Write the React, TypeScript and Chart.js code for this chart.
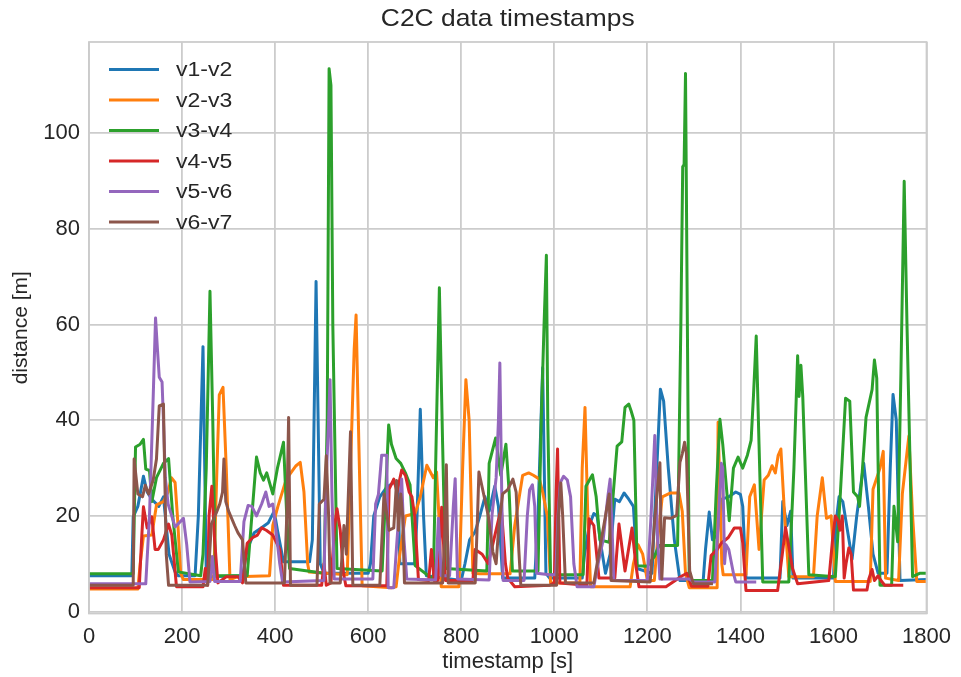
import { useEffect, useRef } from "react";
import { Chart, registerables } from "chart.js";

Chart.register(...registerables);

type Pt = [number, number];

// Pairwise vehicle distances over time: [timestamp s, distance m]
const seriesNames = ["v1-v2", "v2-v3", "v3-v4", "v4-v5", "v5-v6", "v6-v7"];
const seriesColors = ["#1f77b4", "#ff7f0e", "#2ca02c", "#d62728", "#9467bd", "#8c564b"];

const v1v2: Pt[] = [
  [0, 7.5], [92, 7.5], [95, 19.8], [105, 22], [117, 28.3], [125, 25], [135, 23.5], [150, 22], [160, 24], [172, 12],
  [185, 8.3], [192, 7.5], [228, 7.5], [235, 20], [245, 55.4], [252, 8], [258, 7.3], [330, 7.5], [340, 13], [355, 16.5],
  [370, 17.5], [385, 18.5], [398, 21], [405, 17], [418, 10.4], [474, 10.4], [480, 15], [488, 69], [497, 10], [505, 8],
  [600, 8], [605, 10], [612, 20], [625, 24], [640, 26], [655, 27], [664, 27], [668, 10], [700, 10], [705, 20],
  [712, 42.3], [719, 20], [725, 7.5], [800, 6.5], [808, 10], [818, 15], [830, 16.7], [840, 20], [851, 24], [860, 21],
  [872, 26.2], [880, 22], [889, 7], [958, 7], [965, 20], [975, 51], [982, 8], [990, 7], [1060, 7], [1065, 12],
  [1075, 18], [1085, 20.5], [1092, 20], [1100, 14], [1110, 8], [1120, 12], [1130, 23.5], [1140, 23], [1150, 24.8],
  [1160, 23.5], [1170, 22], [1178, 9], [1210, 8], [1218, 25], [1228, 46.5], [1235, 44], [1245, 30], [1258, 15],
  [1270, 6.5], [1320, 6.5], [1325, 13], [1333, 20.8], [1340, 15], [1350, 16], [1360, 23.5], [1375, 24], [1390, 25],
  [1400, 24.5], [1405, 22], [1412, 7], [1485, 7], [1491, 23], [1500, 18], [1508, 21], [1513, 7], [1600, 7],
  [1605, 18], [1612, 24], [1620, 23], [1630, 17], [1640, 11], [1650, 20], [1665, 31], [1675, 22], [1685, 12],
  [1696, 8], [1715, 8], [1722, 30], [1728, 45.4], [1735, 40], [1743, 6.5], [1800, 6.7],
];

const v2v3: Pt[] = [
  [0, 4.7], [105, 4.7], [110, 10], [117, 15.8], [135, 16], [145, 22.3], [160, 23], [170, 25], [177, 28], [185, 27],
  [190, 20], [197, 8], [203, 6.7], [268, 6.7], [275, 30], [280, 45.3], [288, 46.9], [295, 30], [303, 6.7], [320, 7.3],
  [388, 7.5], [395, 18], [406, 22], [424, 27.7], [445, 30.5], [454, 31.2], [462, 25], [470, 10], [473, 8.3],
  [555, 7.7], [562, 30], [570, 55], [574, 62], [580, 35], [587, 5.4], [650, 5], [660, 5.2], [668, 12], [680, 20],
  [701, 20.5], [712, 24], [726, 30.6], [740, 28], [747, 29.2], [752, 20], [757, 5.2], [795, 5.2], [803, 30],
  [810, 48.5], [817, 40], [825, 8], [840, 7.9], [905, 7.9], [915, 18], [932, 28.5], [945, 29], [955, 28.5],
  [968, 27.7], [975, 25], [985, 20], [992, 6], [1055, 6], [1060, 30], [1066, 42.7], [1072, 20], [1078, 5.2],
  [1163, 5.2], [1170, 10], [1180, 14], [1190, 12], [1200, 6.5], [1215, 6.5], [1222, 15], [1232, 24], [1250, 24.8],
  [1268, 24.8], [1275, 21], [1282, 8], [1290, 5], [1350, 5], [1352, 39.6], [1360, 10], [1363, 7.7], [1412, 7.7],
  [1420, 24], [1430, 26.5], [1440, 13], [1451, 27.5], [1460, 28.5], [1468, 30.5], [1475, 29], [1481, 32.6],
  [1487, 34], [1495, 20], [1504, 7.3], [1557, 7.3], [1565, 20], [1576, 28], [1585, 19.5], [1595, 20], [1604, 6.3],
  [1679, 6.3], [1685, 25.6], [1700, 30], [1707, 33.5], [1712, 7], [1740, 6.5], [1748, 24.6], [1762, 36.7],
  [1770, 20], [1779, 6.3], [1800, 6.3],
];

const v3v4: Pt[] = [
  [0, 7.9], [95, 7.9], [100, 34.4], [110, 35], [117, 36], [122, 29.8], [130, 29.5], [135, 23], [145, 28], [160, 31],
  [171, 32], [180, 20], [192, 8.3], [240, 7.5], [245, 12], [252, 30], [260, 67], [266, 40], [272, 7.5], [340, 7.5],
  [350, 20], [360, 32.3], [368, 29], [375, 27.5], [382, 29], [395, 24.6], [405, 30], [418, 35.4], [425, 20], [431, 9],
  [505, 8], [512, 40], [516, 113.5], [520, 110], [524, 60], [533, 9], [630, 8.5], [640, 30], [644, 39], [650, 35],
  [660, 32], [670, 31], [680, 29], [690, 26.5], [701, 9.6], [740, 6.7], [747, 40], [753, 67.7], [760, 35], [766, 9],
  [855, 8.5], [860, 31], [874, 36.3], [885, 28.5], [896, 35], [903, 25], [910, 8.5], [965, 8.5], [972, 40], [978, 60],
  [983, 74.5], [986, 40], [992, 7.7], [1062, 7.7], [1068, 26.2], [1082, 28.6], [1090, 24], [1098, 15], [1118, 14.5],
  [1127, 25], [1135, 34.6], [1145, 35.5], [1152, 42.7], [1160, 43.4], [1165, 42], [1171, 40], [1178, 9.6],
  [1200, 9.5], [1215, 11.5], [1225, 13.8], [1265, 13.8], [1272, 60], [1276, 93], [1279, 93.5], [1282, 112.5],
  [1286, 60], [1290, 6.5], [1340, 6.5], [1348, 25], [1356, 40.2], [1362, 35], [1376, 19], [1385, 30], [1395, 32.3],
  [1405, 30], [1415, 32.7], [1423, 35.8], [1428, 45], [1434, 57.6], [1440, 35], [1448, 6.2], [1504, 6.2], [1515, 30],
  [1523, 53.5], [1526, 45], [1530, 51.5], [1534, 45], [1547, 7.7], [1604, 7.3], [1615, 25], [1626, 44.6], [1635, 44],
  [1643, 25], [1652, 24], [1656, 22], [1661, 28], [1670, 40.6], [1683, 46.4], [1688, 52.6], [1693, 48.8], [1700, 5.5],
  [1725, 5.5], [1730, 22], [1738, 14.6], [1745, 50], [1752, 90], [1758, 60], [1770, 7.3], [1785, 8], [1800, 8],
];

const v4v5: Pt[] = [
  [0, 5], [108, 5], [113, 15], [117, 21.9], [125, 17.5], [135, 19.8], [142, 13], [149, 13], [160, 15], [171, 18.3],
  [178, 16], [188, 5.2], [245, 5.2], [250, 9], [255, 5.5], [258, 20], [264, 26.2], [270, 15], [277, 6], [295, 7.3],
  [320, 7.3], [330, 6], [340, 14.3], [352, 15.5], [362, 16], [371, 17.5], [381, 17], [395, 16], [410, 13], [418, 5.5],
  [500, 5.5], [505, 10], [510, 5.5], [520, 6], [528, 18], [533, 21.5], [540, 17], [547, 8], [552, 5.4], [640, 5.4],
  [645, 25.6], [655, 27.7], [662, 25], [672, 29.6], [680, 28.5], [688, 25], [694, 24], [700, 20], [708, 6.7],
  [730, 6.5], [736, 13], [742, 6.5], [750, 6.5], [758, 21.8], [766, 6.5], [825, 6.5], [830, 13], [845, 12],
  [858, 10], [870, 15], [886, 21.7], [895, 10], [900, 7], [915, 5.2], [990, 5.5], [1000, 6], [1004, 25], [1007, 34],
  [1012, 6], [1070, 5.5], [1075, 19.4], [1085, 18], [1096, 7], [1130, 7], [1139, 18.3], [1152, 8.5], [1167, 17.5],
  [1175, 10], [1182, 5.2], [1240, 5.2], [1260, 6.5], [1275, 7.5], [1285, 8], [1295, 5.3], [1330, 5.3], [1337, 11.7],
  [1350, 13], [1360, 14.4], [1374, 15.5], [1387, 17.5], [1400, 17.5], [1405, 14.4], [1412, 4.4], [1480, 4.4],
  [1490, 12], [1497, 17.6], [1512, 9], [1523, 5.8], [1590, 6.5], [1598, 15], [1604, 20], [1610, 19], [1614, 17],
  [1619, 20], [1623, 7], [1627, 10], [1633, 13.3], [1638, 12], [1643, 4.5], [1672, 4.5], [1676, 6.8], [1683, 8.8],
  [1688, 6.5], [1696, 7.5], [1702, 6.5], [1710, 5.5], [1750, 5.5],
];

const v5v6: Pt[] = [
  [0, 5.8], [122, 5.8], [130, 20], [138, 45], [143, 61.4], [147, 55], [151, 49], [157, 48], [160, 40], [164, 28],
  [170, 22.5], [185, 17.7], [203, 19.5], [210, 14], [217, 6.2], [260, 6.3], [265, 11.5], [270, 6.3], [325, 6.3],
  [333, 18.8], [342, 22.2], [350, 22], [360, 20], [371, 22.5], [380, 25], [387, 22], [395, 22.5], [400, 18.5],
  [410, 10], [416, 6.2], [505, 6.5], [509, 25.5], [515, 40], [518, 48.5], [522, 25], [527, 6.8], [610, 6.8],
  [616, 22.5], [622, 24.5], [629, 32.7], [640, 32.7], [643, 5], [655, 5], [662, 15], [672, 27.7], [677, 15],
  [683, 6.8], [745, 6.6], [751, 19.5], [757, 7.5], [775, 7.5], [783, 22], [787, 27.8], [792, 6.8], [860, 6.6],
  [866, 20], [875, 28], [880, 40], [883, 52], [887, 25], [890, 6.5], [935, 6.5], [942, 20], [947, 25.5], [953, 26.5],
  [958, 22], [962, 8], [990, 7.7], [1003, 7.7], [1008, 20], [1013, 27], [1020, 28.3], [1028, 27.5], [1035, 24],
  [1042, 10], [1049, 5.2], [1085, 5.2], [1092, 9], [1105, 15], [1115, 24], [1120, 27.7], [1125, 15], [1128, 6.5],
  [1200, 6.5], [1208, 20], [1216, 36.8], [1222, 15], [1227, 6.8], [1290, 6.8], [1300, 6.2], [1345, 6.2], [1352, 18],
  [1359, 31], [1362, 30], [1366, 10], [1369, 14], [1375, 13], [1385, 8], [1390, 6.2], [1434, 6.2],
];

const v6v7: Pt[] = [
  [0, 5.5], [95, 5.5], [97, 31.9], [105, 24.6], [115, 24], [121, 26.4], [128, 24.6], [138, 27.5], [145, 31.9],
  [151, 43], [160, 43.4], [163, 27.5], [166, 12], [171, 5.5], [255, 5.5], [258, 10], [263, 18.3], [275, 21],
  [281, 22.5], [287, 25], [290, 31.9], [294, 23], [300, 21], [313, 18], [320, 16.5], [330, 15], [337, 6], [420, 6],
  [425, 20], [429, 40.6], [433, 5.5], [490, 5.5], [495, 22.5], [505, 23.5], [510, 32.6], [515, 20], [518, 6],
  [540, 6], [548, 18], [553, 12], [562, 37.6], [567, 5.5], [625, 5.5], [634, 24.6], [645, 17], [655, 17.5],
  [661, 27.4], [665, 17], [670, 24.6], [674, 20], [678, 6], [760, 6], [764, 15], [768, 30.7], [772, 6], [830, 6],
  [835, 20], [838, 29.2], [845, 26], [858, 20.1], [868, 12.5], [875, 10], [880, 17], [889, 24.6], [900, 25.5],
  [911, 27.7], [918, 25], [924, 12.5], [928, 5.5], [1005, 5.5], [1009, 20], [1014, 26.9], [1018, 20], [1024, 6],
  [1085, 6], [1092, 10], [1110, 20], [1118, 24.6], [1122, 6.5], [1206, 6.2], [1212, 14], [1216, 19.5], [1227, 31.1],
  [1231, 6.8], [1237, 19.6], [1250, 19.5], [1263, 20.1], [1270, 31.2], [1275, 33], [1280, 35.4], [1284, 33],
  [1291, 8.5], [1299, 5.8], [1341, 5.8],
];

const seriesData: Pt[][] = [v1v2, v2v3, v3v4, v4v5, v5v6, v6v7];

const xTicks = [0, 200, 400, 600, 800, 1000, 1200, 1400, 1600, 1800];
const yTicks = [0, 20, 40, 60, 80, 100];

const FONT = '"Liberation Sans", Arial, Helvetica, sans-serif';
const TEXT = "#262626";
const GRID = "#cccccc";

// Frame, in-axes legend and title drawn on top of the lines
const frameAndLegend = {
  id: "frameAndLegend",
  afterDatasetsDraw(chart: any) {
    const { ctx, chartArea } = chart;
    const { left, right, top, bottom } = chartArea;
    ctx.save();
    ctx.strokeStyle = GRID;
    ctx.lineWidth = 1.8;
    ctx.strokeRect(left, top, right - left, bottom - top);

    ctx.font = `20px ${FONT}`;
    ctx.textBaseline = "middle";
    ctx.textAlign = "left";
    chart.data.datasets.forEach((ds: any, i: number) => {
      const y = top + 27.5 + i * 30.5;
      ctx.strokeStyle = ds.borderColor;
      ctx.lineWidth = 3;
      ctx.lineCap = "butt";
      ctx.beginPath();
      ctx.moveTo(left + 20, y);
      ctx.lineTo(left + 70, y);
      ctx.stroke();
      ctx.save();
      ctx.translate(left + 87, y + 1);
      ctx.scale(1.15, 1);
      ctx.fillStyle = TEXT;
      ctx.fillText(ds.label, 0, 0);
      ctx.restore();
    });

    ctx.save();
    ctx.font = `24px ${FONT}`;
    ctx.textAlign = "center";
    ctx.textBaseline = "middle";
    ctx.fillStyle = TEXT;
    ctx.translate((left + right) / 2, 19);
    ctx.scale(1.1, 1);
    ctx.fillText("C2C data timestamps", 0, 0);
    ctx.restore();
    ctx.restore();
  },
};

export default function App() {
  const canvasRef = useRef<HTMLCanvasElement | null>(null);

  useEffect(() => {
    if (!canvasRef.current) return;
    const chart = new Chart(canvasRef.current, {
      type: "line",
      data: {
        datasets: seriesNames.map((name, i) => ({
          label: name,
          data: seriesData[i].map(([x, y]) => ({ x, y })),
          borderColor: seriesColors[i],
          backgroundColor: seriesColors[i],
          borderWidth: 3,
          borderJoinStyle: "round" as const,
          pointRadius: 0,
          tension: 0,
          fill: false,
          order: seriesNames.length - i,
        })),
      },
      options: {
        responsive: false,
        animation: false,
        layout: { padding: { top: 42, right: 29, bottom: 0, left: 0 } },
        plugins: {
          legend: { display: false },
          title: { display: false },
          tooltip: { enabled: false },
        },
        scales: {
          x: {
            type: "linear",
            min: 0,
            max: 1800,
            afterBuildTicks: (s: any) => {
              s.ticks = xTicks.map((v) => ({ value: v }));
            },
            afterFit: (s: any) => {
              s.height = 63.5;
            },
            grid: { color: GRID, lineWidth: 1.8, drawTicks: false },
            border: { display: false },
            ticks: {
              padding: 10,
              color: TEXT,
              font: { size: 22, family: FONT },
              maxRotation: 0,
              autoSkip: false,
              callback: (v: any) => String(v),
            },
            title: {
              display: true,
              text: "timestamp [s]",
              color: TEXT,
              font: { size: 22, family: FONT },
              padding: { top: 0, bottom: 2 },
            },
          },
          y: {
            type: "linear",
            min: -0.4,
            max: 119.1,
            afterBuildTicks: (s: any) => {
              s.ticks = yTicks.map((v) => ({ value: v }));
            },
            afterFit: (s: any) => {
              s.width = 89;
            },
            grid: { color: GRID, lineWidth: 1.8, drawTicks: false },
            border: { display: false },
            ticks: {
              padding: 9,
              color: TEXT,
              font: { size: 22, family: FONT },
              autoSkip: false,
              callback: (v: any) => String(v),
            },
            title: {
              display: true,
              text: "distance [m]",
              color: TEXT,
              font: { size: 21, family: FONT },
              padding: { top: 9, bottom: 0 },
            },
          },
        },
      },
      plugins: [frameAndLegend],
    });
    return () => chart.destroy();
  }, []);

  return (
    <div style={{ position: "fixed", left: 0, top: 0, width: 961, height: 677, background: "#ffffff" }}>
      <canvas ref={canvasRef} width={961} height={677} style={{ display: "block" }} />
    </div>
  );
}
